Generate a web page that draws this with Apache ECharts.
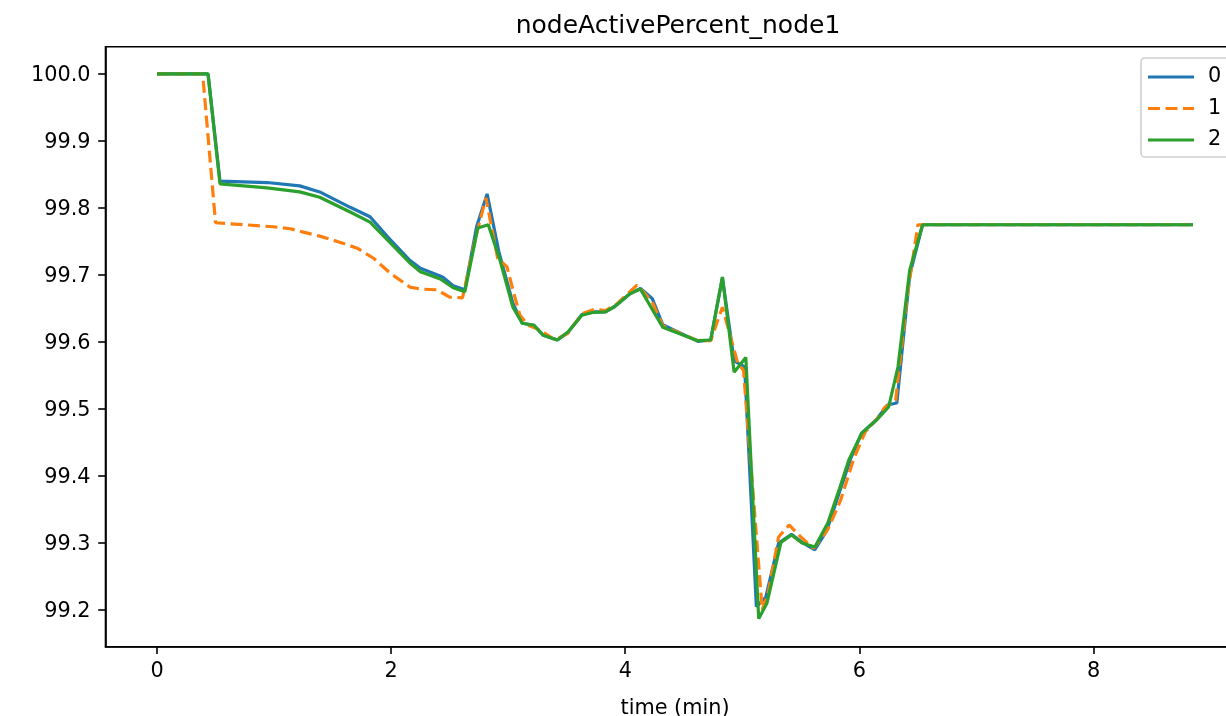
<!DOCTYPE html>
<html>
<head>
<meta charset="utf-8">
<script src="https://cdn.jsdelivr.net/npm/echarts@6/dist/echarts.min.js"></script>
<style>html,body{margin:0;padding:0;background:#fff;}#c{width:1226px;height:716px;}</style>
</head>
<body>
<div id="c"></div>
<script>
const seriesNames = ['0', '1', '2'];
const t0 = [0, 0.436, 0.538, 0.94, 1.22, 1.39, 1.65, 1.82, 1.97, 2.16, 2.25, 2.44, 2.53, 2.63, 2.73, 2.82, 2.92, 3.04, 3.12, 3.22, 3.30, 3.42, 3.51, 3.63, 3.73, 3.83, 3.91, 4.04, 4.13, 4.23, 4.32, 4.62, 4.73, 4.83, 4.93, 5.02, 5.12, 5.20, 5.31, 5.42, 5.51, 5.62, 5.72, 5.83, 5.93, 6.02, 6.15, 6.24, 6.32, 6.43, 6.54, 8.85];
const v0 = [100, 100, 99.840, 99.838, 99.833, 99.824, 99.801, 99.787, 99.757, 99.722, 99.710, 99.697, 99.684, 99.678, 99.772, 99.821, 99.735, 99.658, 99.628, 99.625, 99.610, 99.603, 99.614, 99.641, 99.645, 99.645, 99.653, 99.672, 99.680, 99.665, 99.626, 99.601, 99.603, 99.696, 99.572, 99.563, 99.205, 99.219, 99.300, 99.313, 99.301, 99.290, 99.318, 99.376, 99.428, 99.464, 99.485, 99.506, 99.509, 99.700, 99.775, 99.775];
const t1 = [0, 0.39, 0.50, 0.99, 1.14, 1.25, 1.39, 1.56, 1.71, 1.85, 1.99, 2.16, 2.25, 2.39, 2.50, 2.61, 2.72, 2.81, 2.91, 2.99, 3.04, 3.10, 3.17, 3.27, 3.40, 3.51, 3.63, 3.74, 3.83, 3.93, 4.10, 4.23, 4.32, 4.62, 4.73, 4.83, 4.96, 5.01, 5.17, 5.22, 5.31, 5.40, 5.50, 5.61, 5.73, 5.84, 5.95, 6.05, 6.15, 6.22, 6.31, 6.41, 6.50, 8.85];
const v1 = [100, 100, 99.778, 99.772, 99.769, 99.764, 99.758, 99.749, 99.740, 99.725, 99.703, 99.682, 99.679, 99.678, 99.667, 99.666, 99.755, 99.815, 99.725, 99.712, 99.678, 99.640, 99.625, 99.618, 99.603, 99.613, 99.642, 99.649, 99.647, 99.657, 99.685, 99.660, 99.624, 99.602, 99.602, 99.652, 99.569, 99.558, 99.200, 99.225, 99.309, 99.327, 99.309, 99.292, 99.320, 99.364, 99.425, 99.466, 99.485, 99.503, 99.513, 99.670, 99.775, 99.775];
const t2 = [0, 0.436, 0.538, 0.94, 1.22, 1.39, 1.65, 1.82, 1.97, 2.16, 2.25, 2.42, 2.53, 2.63, 2.74, 2.83, 2.93, 3.04, 3.12, 3.22, 3.30, 3.42, 3.51, 3.63, 3.72, 3.83, 3.91, 4.04, 4.13, 4.32, 4.62, 4.73, 4.83, 4.93, 5.03, 5.14, 5.21, 5.33, 5.42, 5.51, 5.62, 5.73, 5.83, 5.91, 6.02, 6.15, 6.25, 6.33, 6.43, 6.54, 8.85];
const v2 = [100, 100, 99.836, 99.830, 99.824, 99.816, 99.794, 99.779, 99.752, 99.718, 99.705, 99.694, 99.681, 99.675, 99.770, 99.775, 99.722, 99.652, 99.628, 99.625, 99.610, 99.603, 99.615, 99.640, 99.644, 99.645, 99.653, 99.672, 99.679, 99.622, 99.602, 99.603, 99.697, 99.555, 99.577, 99.187, 99.210, 99.301, 99.312, 99.300, 99.294, 99.330, 99.381, 99.424, 99.464, 99.484, 99.503, 99.563, 99.707, 99.775, 99.775];
const xTicks = [0, 2, 4, 6, 8];
const yTicks = [99.2, 99.3, 99.4, 99.5, 99.6, 99.7, 99.8, 99.9, 100.0];
const titleText = 'nodeActivePercent_node1';
const xLabel = 'time (min)';

const colors = ['#1f77b4', '#ff7f0e', '#2ca02c'];
const legendIcons = [
  'path://M0,0h46v3h-46z',
  'path://M0,0h12v3h-12zM17.5,0h12v3h-12zM35,0h11v3h-11z',
  'path://M0,0h46v3h-46z'
];
const zip = (t, v) => t.map((x, i) => [x, v[i]]);
const dataSets = [zip(t0, v0), zip(t1, v1), zip(t2, v2)];
const FONT = 'DejaVu Sans';

const chart = echarts.init(document.getElementById('c'), null, {renderer: 'canvas'});
chart.setOption({
  animation: false,
  backgroundColor: '#fff',
  title: {
    text: titleText, left: 673, top: 9, textAlign: 'center',
    textStyle: {fontFamily: FONT, fontSize: 25, fontWeight: 'normal', color: '#000'}
  },
  grid: {
    left: 105.5, top: 46.7, width: 1139, height: 600,
    outerBoundsMode: 'none', containLabel: false,
    show: true, borderColor: '#000', borderWidth: 1.6, backgroundColor: 'transparent'
  },
  legend: {
    orient: 'vertical', left: 1141, top: 58,
    itemWidth: 46, itemHeight: 3.2, itemGap: 10.5,
    padding: [8.5, 40, 6.5, 7],
    borderColor: '#d0d0d0', borderWidth: 1.6, borderRadius: 4,
    backgroundColor: 'rgba(255,255,255,0.8)',
    textStyle: {fontFamily: FONT, fontSize: 20.8, color: '#000', lineHeight: 21, padding: [0, 0, 0, 9]},
    data: seriesNames.map((n, i) => ({name: n, icon: legendIcons[i], itemStyle: {color: colors[i]}}))
  },
  xAxis: {
    type: 'value', min: -0.44, max: 9.29,
    axisLine: {show: true, onZero: false, lineStyle: {color: '#000', width: 1.6}},
    axisTick: {show: true, length: 7.3, lineStyle: {color: '#000', width: 1.6}, customValues: xTicks},
    axisLabel: {fontFamily: FONT, fontSize: 20.8, color: '#000', margin: 14, customValues: xTicks,
      formatter: v => String(v)},
    splitLine: {show: false},
    name: xLabel, nameLocation: 'middle', nameGap: 51,
    nameTextStyle: {fontFamily: FONT, fontSize: 20.8, color: '#000'}
  },
  yAxis: {
    type: 'value', min: 99.1453, max: 100.0407,
    axisLine: {show: true, onZero: false, lineStyle: {color: '#000', width: 1.6}},
    axisTick: {show: true, length: 7.3, lineStyle: {color: '#000', width: 1.6}, customValues: yTicks},
    axisLabel: {fontFamily: FONT, fontSize: 20.8, color: '#000', margin: 15, customValues: yTicks,
      verticalAlign: 'top', lineHeight: 4, formatter: v => v.toFixed(1)},
    splitLine: {show: false}
  },
  series: dataSets.map((d, i) => ({
    name: seriesNames[i], type: 'line', data: d, symbol: 'none', showSymbol: false,
    itemStyle: {color: colors[i]},
    lineStyle: {
      color: colors[i], width: 3.2,
      type: i === 1 ? [12, 5.5] : 'solid'
    },
    emphasis: {disabled: true},
    z: 2 + i
  }))
});
</script>
</body>
</html>
